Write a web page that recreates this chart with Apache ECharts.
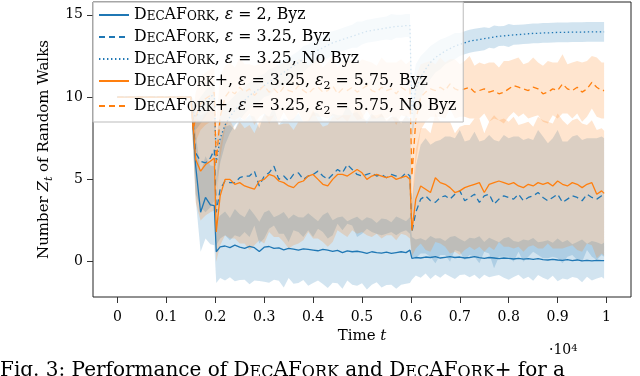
<!DOCTYPE html>
<html><head><meta charset="utf-8">
<script src="https://cdn.jsdelivr.net/npm/echarts@6/dist/echarts.min.js"></script>
<style>html,body{margin:0;padding:0;background:#fff}#c{width:640px;height:376px}</style>
</head><body><div id="c"></div>
<script>
// ---------------- data ----------------
const times = [0,1500,1550,1600,1700,1800,1900,1980,2020,
2100,2200,2300,2400,2500,2600,2700,2800,2900,3000,3100,3200,3300,3400,3500,3600,3700,3800,3900,4000,4100,4200,4300,4400,4500,4600,4700,4800,4900,5000,5100,5200,5300,5400,5500,5600,5700,5800,5900,
5980,6020,
6100,6200,6300,6400,6500,6600,6700,6800,6900,7000,7100,7200,7300,7400,7500,7600,7700,7800,7900,8000,8100,8200,8300,8400,8500,8600,8700,8800,8900,9000,9100,9200,9300,9400,9500,9600,9700,9800,9900,
9950];

// DecAFork, eps = 2, Byz
const meanA = [10,10,8.0,5.8,3.0,3.9,3.45,3.4, 0.6,
0.90,0.95,0.85,1.00,0.88,0.80,0.93,0.85,0.62,0.88, 0.92,0.80,0.84,0.72,0.80,0.76,0.70,0.78,0.74,0.70, 0.66,0.74,0.70,0.62,0.68,0.55,0.66,0.60,0.63,0.58, 0.50,0.60,0.55,0.52,0.58,0.50,0.55,0.60,0.55,
0.70,0.20,
0.25,0.22,0.28,0.25,0.30,0.22,0.26,0.30,0.25,0.28, 0.22,0.25,0.30,0.24,0.20,0.25,0.22,0.18,0.22,0.20, 0.16,0.20,0.15,0.18,0.14,0.18,0.12,0.10,0.14,0.10, 0.08,0.12,0.06,0.10,0.05,0.08,0.05,0.08,0.06,
0.06];
const stdA = [0,0,1.2,2.0,2.4,2.5,2.4,2.4, 1.9,
1.9,2.1,1.8,2.2,2.0,1.9,2.3,2.0,1.8,2.1, 2.2,1.9,2.0,2.3,1.8,2.1,2.0,1.9,2.2,2.0, 1.8,2.1,2.3,1.9,2.0,2.2,1.8,2.0,2.1,1.9, 2.2,2.0,1.8,2.1,2.0,1.9,2.2,2.0,1.9,
2.0,1.3,
1.1,1.2,1.0,1.3,1.1,1.2,1.0,1.2,1.3,1.1, 1.0,1.2,1.1,1.3,1.0,1.2,1.1,1.0,1.2,1.3, 1.1,1.0,1.2,1.1,1.3,1.0,1.1,1.2,1.0,1.3, 1.1,1.2,1.0,1.1,1.3,1.0,1.2,1.1,1.0,
1.1];

// DecAFork, eps = 3.25, Byz
const meanB = [10,10,8.4,6.6,6.1,6.0,6.3,6.8, 3.0,
4.4,4.9,4.8,4.8,5.1,5.2,5.2,5.5,4.6,5.2, 5.4,5.8,5.0,5.2,4.9,5.3,5.4,5.0,5.2,5.3, 5.5,5.2,5.0,5.3,5.6,5.4,5.9,5.6,5.3,5.2, 5.3,5.4,5.2,5.3,5.1,5.3,5.2,5.1,5.4,
5.2,1.8,
3.0,3.8,4.0,3.7,3.6,3.9,4.0,3.8,4.1,4.3, 3.7,3.9,4.1,3.6,4.0,4.1,3.5,3.8,4.0,3.9, 3.8,4.1,3.7,3.9,4.0,4.2,3.9,3.7,3.9,4.1, 3.6,3.8,4.0,3.9,3.7,4.1,3.9,3.8,4.0,
3.9];
const stdB = [0,0,1.5,2.5,2.8,3.0,3.0,3.1, 2.0,
3.0,3.3,3.5,3.2,3.6,3.4,3.7,3.3,3.5,3.8, 3.4,3.6,3.3,3.5,3.7,3.4,3.6,3.5,3.3,3.8, 3.5,3.4,3.6,3.7,3.3,3.5,3.6,3.4,3.8,3.5, 3.3,3.6,3.5,3.7,3.4,3.5,3.6,3.3,3.5,
3.5,1.5,
2.8,3.3,3.5,3.4,3.7,3.5,3.6,3.8,3.4,3.7, 3.6,3.5,3.8,3.7,3.4,3.6,3.9,3.5,3.7,3.6, 3.8,3.5,3.7,3.6,3.4,3.8,3.7,3.5,3.6,3.9, 3.7,3.5,3.6,3.8,3.7,3.4,3.6,3.7,3.6,
3.6];

// DecAFork, eps = 3.25, No Byz
const meanC = [10,10,9.0,8.8,9.2,9.6,10.0,10.2, 6.0,
7.5,8.3,8.8,9.2,9.5,9.8,10.1,10.3,10.5,10.7, 10.9,11.1,11.3,11.5,11.7,11.9,12.1,12.3,12.5,12.7, 12.85,13.0,13.15,13.3,13.4,13.5,13.6,13.7,13.8,13.9, 14.0,14.05,14.1,14.15,14.2,14.25,14.3,14.3,14.35,
14.35,9.0,
10.5,11.2,11.7,12.1,12.4,12.6,12.8,12.95,13.1,13.2, 13.3,13.4,13.45,13.5,13.55,13.6,13.65,13.7,13.72,13.75, 13.78,13.8,13.82,13.85,13.87,13.88,13.9,13.9,13.92,13.93, 13.93,13.94,13.95,13.95,13.95,13.96,13.96,13.97,13.97,
13.97];
const stdC = [0,0,0.6,0.8,0.8,0.8,0.7,0.7, 1.5,
1.5,1.2,1.0,0.9,0.9,0.8,0.8,0.8,0.8,0.7, 0.8,0.7,0.7,0.8,0.7,0.7,0.7,0.8,0.7,0.7, 0.7,0.7,0.8,0.7,0.7,0.7,0.7,0.7,0.8,0.7, 0.7,0.7,0.7,0.7,0.7,0.8,0.7,0.7,0.7,
0.7,1.5,
1.5,1.3,1.1,1.0,0.9,0.9,0.8,0.8,0.8,0.7, 0.7,0.7,0.7,0.7,0.7,0.6,0.7,0.6,0.6,0.7, 0.6,0.6,0.6,0.6,0.6,0.6,0.6,0.6,0.6,0.6, 0.6,0.6,0.6,0.6,0.6,0.6,0.6,0.6,0.6,
0.6];

// DecAFork+, eps = 3.25, eps2 = 5.75, Byz
const meanD = [10,10,8.2,6.2,5.5,5.9,6.1,6.3, 1.8,
4.0,5.0,5.0,4.7,4.8,4.6,4.5,4.4,4.9,5.0, 5.3,5.2,4.9,4.8,4.6,4.5,4.8,4.9,5.2,5.3, 5.0,4.7,4.6,5.0,5.3,5.3,5.2,5.4,5.6,5.4, 5.0,5.2,5.3,5.2,5.1,5.2,5.0,5.1,5.2,
5.0,1.9,
3.8,4.6,4.4,4.2,5.1,4.8,4.7,4.5,4.2,4.3, 4.5,4.6,4.7,4.8,4.2,4.7,4.8,4.9,4.8,4.7, 4.8,4.6,4.5,4.7,4.6,4.8,4.7,4.8,4.6,4.9, 4.7,4.6,4.8,4.7,4.5,4.7,4.8,4.1,4.3,
4.15];
const stdD = [0,0,1.5,2.6,3.0,3.1,3.1,3.2, 1.8,
3.0,3.4,3.6,3.3,3.7,3.5,3.8,3.4,3.6,3.9, 3.5,3.7,3.4,3.6,3.8,3.5,3.7,3.6,3.4,3.9, 3.6,3.5,3.7,3.8,3.4,3.6,3.7,3.5,3.9,3.6, 3.4,3.7,3.6,3.8,3.5,3.6,3.7,3.4,3.6,
3.6,1.6,
3.0,3.5,3.7,3.6,3.9,3.7,3.8,4.0,3.6,3.9, 3.8,3.7,4.0,3.9,3.6,3.8,4.1,3.7,3.9,3.8, 4.0,3.7,3.9,3.8,3.6,4.0,3.9,3.7,3.8,4.1, 3.9,3.7,3.8,4.0,3.9,3.6,3.8,3.9,3.8,
3.8];

// DecAFork+, eps = 3.25, eps2 = 5.75, No Byz
const meanE = [10,10,8.0,8.8,9.6,9.9,10.1,10.3, 6.0,
8.8,10.0,10.4,10.2,10.6,10.3,10.5,10.1,10.4,10.7, 10.3,10.5,10.2,10.6,10.4,10.3,10.7,10.4,10.2,10.5, 10.6,10.3,10.4,10.7,10.2,10.5,10.4,10.6,10.3,10.5, 10.7,10.4,10.3,10.6,10.4,10.5,10.2,10.6,10.4,
10.5,5.2,
8.6,10.0,10.3,10.5,10.4,10.6,10.4,10.8,10.5,10.4, 10.5,10.6,10.3,10.4,10.5,10.3,10.4,10.2,10.3,10.5, 10.7,10.6,10.5,10.4,10.6,10.5,10.2,10.3,10.5,10.4, 10.8,10.5,10.4,10.6,10.3,10.5,10.9,10.6,10.4,
10.4];
const stdE = [0,0,1.2,1.5,1.6,1.6,1.6,1.6, 2.5,
2.5,1.9,1.7,1.6,1.8,1.7,1.5,1.8,1.6,1.7, 1.9,1.6,1.7,1.5,1.8,1.7,1.6,1.9,1.7,1.6, 1.8,1.5,1.7,1.8,1.6,1.7,1.9,1.6,1.7,1.8, 1.5,1.7,1.6,1.8,1.7,1.6,1.9,1.7,1.6,
1.7,2.5,
2.6,2.0,1.8,1.7,1.6,1.8,1.7,1.5,1.8,1.6, 1.7,1.9,1.6,1.7,1.5,1.8,1.7,1.6,1.9,1.7, 1.6,1.8,1.5,1.7,1.8,1.6,1.7,1.9,1.6,1.7, 1.8,1.5,1.7,1.6,1.8,1.7,1.6,1.8,1.7,
1.7];

const xTickValues = [0,1000,2000,3000,4000,5000,6000,7000,8000,9000,10000];
const xTickLabels = ['0','0.1','0.2','0.3','0.4','0.5','0.6','0.7','0.8','0.9','1'];
const yTickValues = [0,5,10,15];
const yTickLabels = ['0','5','10','15'];

const seriesKeys = ['A','B','C','D','E'];
const DEC = '{n|D}{s|EC}{n|AF}{s|ORK}';
const legendLabels = {
  A: DEC + '{n|, }{i|ε}{n| = 2, Byz}',
  B: DEC + '{n|, }{i|ε}{n| = 3.25, Byz}',
  C: DEC + '{n|, }{i|ε}{n| = 3.25, No Byz}',
  D: DEC + '{n|+, }{i|ε}{n| = 3.25, }{i|ε}{sub|2}{n| = 5.75, Byz}',
  E: DEC + '{n|+, }{i|ε}{n| = 3.25, }{i|ε}{sub|2}{n| = 5.75, No Byz}'
};

// ---------------- drawing ----------------
const arrs = [meanA,stdA,meanB,stdB,meanC,stdC,meanD,stdD,meanE,stdE];
arrs.forEach((a,k)=>{ if (a.length !== times.length) throw new Error('length mismatch in array '+k+': '+a.length+' vs '+times.length); });

const BLUE = '#1f77b4', ORANGE = '#ff7f0e';
const SERIF = '"DejaVu Serif","Liberation Serif",serif';
function richSet(size, lh){
  const base = {fontFamily:SERIF,color:'#000',verticalAlign:'bottom'};
  const o = {
    n:Object.assign({},base,{fontSize:size}),
    s:Object.assign({},base,{fontSize:Math.round(size*0.78)}),
    i:Object.assign({},base,{fontSize:size,fontStyle:'italic'}),
    sub:Object.assign({},base,{fontSize:Math.round(size*0.7),padding:[0,0,-3,0]}),
    subi:Object.assign({},base,{fontSize:Math.round(size*0.7),fontStyle:'italic',padding:[0,0,-3,0]}),
    sup:Object.assign({},base,{fontSize:Math.round(size*0.7),verticalAlign:'top'})
  };
  if (lh) { o.n.lineHeight = lh; o.i.lineHeight = lh; }
  return o;
}

const cfg = {
  A:{mean:meanA,std:stdA,color:BLUE,type:'solid'},
  B:{mean:meanB,std:stdB,color:BLUE,type:[6,4]},
  C:{mean:meanC,std:stdC,color:BLUE,type:[1.4,2.6]},
  D:{mean:meanD,std:stdD,color:ORANGE,type:'solid'},
  E:{mean:meanE,std:stdE,color:ORANGE,type:[6,4]}
};
const fills = {A:'rgba(31,119,180,0.2)',B:'rgba(31,119,180,0.2)',C:'rgba(31,119,180,0.2)',D:'rgba(255,127,14,0.2)',E:'rgba(255,127,14,0.2)'};

const series = [];
seriesKeys.forEach(k=>{
  const c = cfg[k];
  series.push({
    type:'custom', name:'band'+k, silent:true, z:1, clip:true,
    data:[[0,0]],
    renderItem:function(params, api){
      const up=[], lo=[];
      for (let i=0;i<times.length;i++){
        up.push(api.coord([times[i], c.mean[i]+c.std[i]]));
        lo.push(api.coord([times[i], c.mean[i]-c.std[i]]));
      }
      return {type:'polygon', shape:{points:up.concat(lo.reverse())}, style:{fill:fills[k]}};
    }
  });
});
seriesKeys.forEach(k=>{
  const c = cfg[k];
  series.push({
    type:'line', name:k, z:3, symbol:'none', showSymbol:false, animation:false,
    data: times.map((t,i)=>[t,c.mean[i]]),
    lineStyle:{color:c.color,width:1.3,type:c.type},
    itemStyle:{color:c.color}
  });
});

const chart = echarts.init(document.getElementById('c'), null, {renderer:'canvas'});
chart.setOption({
  animation:false,
  backgroundColor:'#fff',
  grid:{left:93, top:2, width:538, height:295, show:true, borderColor:'#222', borderWidth:1, backgroundColor:'transparent'},
  xAxis:{
    type:'value', min:-500, max:10500,
    axisLine:{show:false, onZero:false},
    splitLine:{show:false},
    axisTick:{show:true, inside:false, customValues:xTickValues, length:6, lineStyle:{color:'#333'}},
    axisLabel:{customValues:xTickValues, margin:13, fontFamily:SERIF, fontSize:14, color:'#000',
      formatter:(v)=>{const i=xTickValues.indexOf(v); return i>=0?xTickLabels[i]:'';}},
    name:'{n|Time }{i|t}', nameLocation:'middle', nameGap:32,
    nameTextStyle:{rich:richSet(15)}
  },
  yAxis:{
    type:'value', min:-2.15, max:15.78,
    axisLine:{show:false, onZero:false},
    splitLine:{show:false},
    axisTick:{show:true, inside:false, customValues:yTickValues, length:6, lineStyle:{color:'#333'}},
    axisLabel:{customValues:yTickValues, margin:10, fontFamily:SERIF, fontSize:14, color:'#000',
      formatter:(v)=>{const i=yTickValues.indexOf(v); return i>=0?yTickLabels[i]:'';}},
    name:'{n|Number }{i|Z}{subi|t}{n| of Random Walks}', nameLocation:'middle', nameGap:40, nameRotate:90,
    nameTextStyle:{rich:richSet(15)}
  },
  legend:{
    data:seriesKeys, orient:'vertical', left:93, top:2,
    itemWidth:30, itemHeight:14, itemGap:6,
    padding:[5,7,5,5],
    backgroundColor:'rgba(255,255,255,0.8)', borderColor:'#bbbbbb', borderWidth:1, borderRadius:0,
    selectedMode:false,
    itemStyle:{opacity:0, borderWidth:0},
    formatter:(name)=>legendLabels[name],
    textStyle:{rich:richSet(15.8, 16)}
  },
  graphic:[
    {type:'text', left:549, top:343, style:{text:'{n|·10}{sup|4}', rich:richSet(14)}},
    {type:'text', left:0, top:361, style:{text:'{n|Fig. 3: Performance of D}{s|EC}{n|AF}{s|ORK}{n| and D}{s|EC}{n|AF}{s|ORK}{n|+ for a}', rich:richSet(20)}}
  ],
  series:series
});
</script></body></html>
